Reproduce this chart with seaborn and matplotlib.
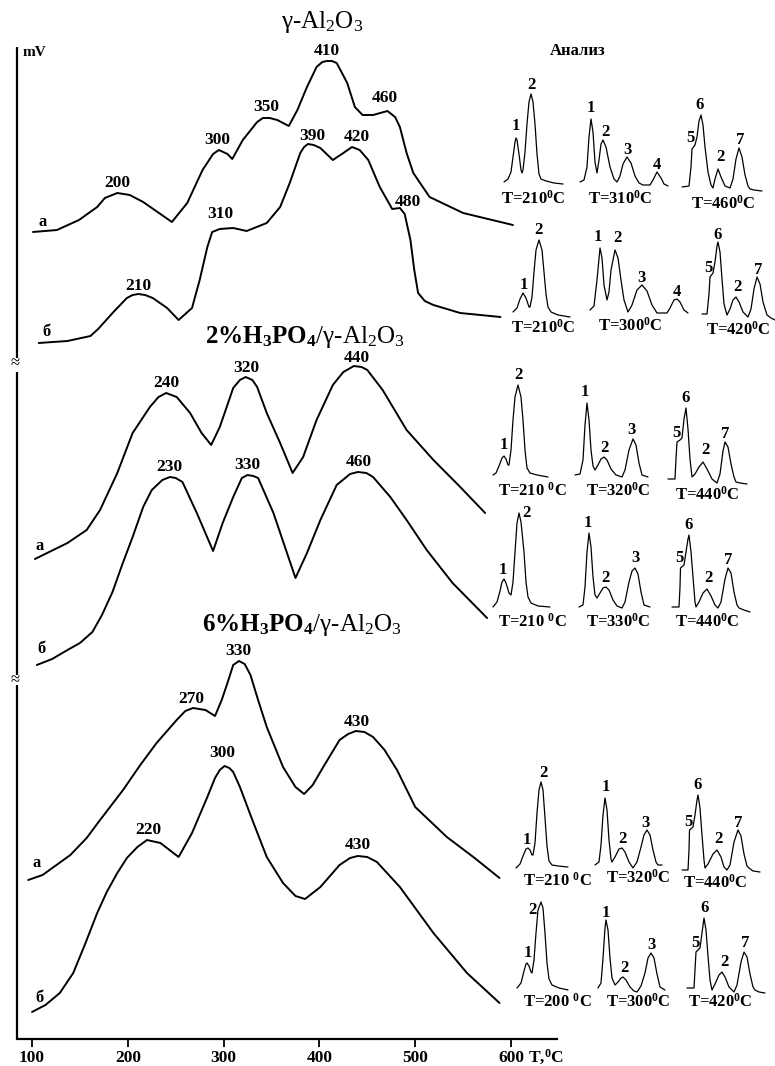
import matplotlib as mpl
mpl.use("Agg")
import matplotlib.pyplot as plt
import seaborn as sns

W, H = 775, 1066

# ---------------- TPD curves: temperature (C) vs signal (mV, shifted) ----------------
gam_a_T = [101, 126, 149, 168, 176, 189, 202, 216, 246, 262, 278, 289, 295, 304, 309, 320, 335, 341, 348, 356,
           368, 377, 387, 397, 403, 408, 413, 418, 423, 429, 437, 445, 456, 471, 479, 484, 491, 498, 515, 550, 602]
gam_a_mV = [807, 809, 819, 832, 841, 846, 844, 837, 817, 836, 869, 885, 889, 885, 880, 899, 917, 921, 921, 919,
            913, 929, 952, 972, 977, 978, 978, 976, 967, 956, 932, 924, 924, 928, 922, 912, 886, 866, 842, 826, 814]

gam_b_T = [107, 137, 161, 169, 185, 199, 205, 211, 218, 226, 241, 253, 267, 275, 283, 288, 296, 310, 324, 345,
           359, 369, 380, 384, 388, 394, 401, 414, 425, 434, 442, 451, 463, 476, 484, 489, 495, 499, 503, 510,
           519, 547, 589]
gam_b_mV = [696, 698, 703, 710, 727, 741, 744, 745, 744, 741, 731, 719, 731, 759, 792, 807, 810, 811, 808, 816,
            832, 856, 886, 892, 895, 894, 891, 879, 886, 892, 889, 879, 852, 830, 831, 825, 799, 769, 746, 738,
            734, 726, 722]

p2_a_T = [103, 137, 157, 171, 189, 205, 223, 232, 240, 251, 265, 277, 287, 296, 310, 317, 323, 330, 335, 345,
          359, 372, 383, 397, 414, 425, 436, 444, 450, 466, 491, 519, 547, 573]
p2_a_mV = [480, 496, 509, 529, 566, 606, 632, 642, 646, 642, 626, 606, 594, 612, 651, 659, 662, 659, 652, 626,
           596, 566, 582, 619, 654, 667, 673, 672, 669, 649, 609, 579, 552, 526]

p2_b_T = [105, 121, 137, 150, 163, 173, 184, 194, 205, 216, 225, 236, 244, 250, 257, 272, 289, 299, 310, 319,
          325, 331, 336, 352, 375, 387, 401, 418, 432, 440, 449, 456, 474, 491, 512, 539, 575]
p2_b_mV = [374, 380, 389, 396, 407, 424, 447, 474, 502, 532, 549, 559, 562, 561, 557, 526, 488, 516, 542, 561,
           564, 563, 561, 526, 461, 486, 519, 554, 565, 567, 566, 562, 542, 519, 489, 456, 421]

p6_a_T = [96, 111, 140, 157, 171, 195, 213, 230, 251, 260, 268, 281, 291, 298, 304, 310, 316, 322, 328, 336,
          345, 362, 375, 384, 393, 404, 421, 430, 438, 447, 456, 468, 481, 500, 533, 562, 588]
p6_a_mV = [159, 164, 184, 201, 219, 249, 274, 296, 319, 328, 331, 329, 323, 339, 356, 374, 378, 375, 364, 339,
           312, 272, 252, 245, 254, 272, 299, 305, 308, 307, 302, 289, 269, 232, 202, 181, 161]

p6_b_T = [100, 114, 129, 143, 155, 168, 178, 189, 199, 210, 220, 234, 253, 267, 275, 283, 291, 296, 301, 306,
          310, 317, 330, 345, 362, 375, 385, 401, 421, 432, 440, 450, 460, 484, 519, 554, 588]
p6_b_mV = [27, 34, 46, 66, 94, 126, 147, 166, 181, 192, 199, 196, 182, 206, 224, 242, 261, 269, 273, 271,
           267, 252, 219, 182, 156, 143, 140, 152, 174, 181, 183, 182, 177, 152, 106, 66, 36]

# peak labels (text, T, mV)
gam_a_peaks = [("200", 189, 856), ("300", 293, 899), ("350", 344, 932), ("410", 408, 988), ("460", 468, 941)]
gam_b_peaks = [("210", 211, 753), ("310", 297, 825), ("390", 393, 903), ("420", 439, 902), ("480", 492, 837)]
p2_a_peaks = [("240", 240, 656), ("320", 324, 671), ("440", 439, 681)]
p2_b_peaks = [("230", 243, 572), ("330", 325, 574), ("460", 441, 577)]
p6_a_peaks = [("270", 266, 340), ("330", 315, 388), ("430", 439, 317)]
p6_b_peaks = [("220", 221, 209), ("300", 299, 286), ("430", 440, 194)]

curve_names = [("а", 111, 817), ("б", 115, 707), ("а", 108, 493),
               ("б", 110, 390), ("а", 105, 176), ("б", 108, 41)]

x_ticks = [100, 200, 300, 400, 500, 600]

# ---------------- chromatograms (retention, signal) ----------------
c1_210 = [(0, 0), (4, 3), (7, 10), (9, 25), (11, 40), (12, 44), (13, 42), (15, 28), (17, 12), (18, 9),
          (19, 12), (21, 30), (23, 58), (25, 80), (27, 88), (29, 80), (31, 58), (33, 28), (35, 8), (37, 3),
          (42, 1), (50, -1), (59, -2)]
c1_310 = [(0, 0), (4, 2), (7, 15), (9, 45), (11, 63), (13, 50), (15, 20), (17, 9), (19, 22), (21, 38),
          (23, 42), (26, 35), (30, 15), (34, 3), (37, 0), (40, 6), (43, 18), (47, 25), (51, 19), (55, 6),
          (59, -1), (63, -3), (70, -3), (73, 2), (77, 10), (81, 4), (84, -2), (88, -4)]
c1_460 = [(0, 0), (7, 1), (9, 20), (10, 38), (13, 42), (15, 50), (17, 66), (19, 72), (21, 62), (23, 40),
          (26, 15), (29, 2), (31, -1), (33, 8), (36, 18), (39, 10), (43, 1), (48, -1), (51, 8), (54, 28),
          (57, 39), (60, 30), (63, 12), (66, 1), (68, -2), (72, -3), (80, -4)]
c2_210 = [(0, 0), (4, 4), (7, 13), (10, 19), (13, 14), (16, 5), (17, 5), (19, 15), (21, 40), (23, 62),
          (26, 72), (29, 62), (31, 40), (33, 18), (35, 5), (38, 0), (45, -3), (57, -5)]
c2_300 = [(0, 0), (4, 4), (7, 30), (10, 62), (12, 52), (14, 25), (17, 10), (19, 18), (21, 40), (25, 60),
          (28, 52), (31, 30), (34, 10), (38, -2), (42, 5), (47, 20), (52, 25), (57, 19), (62, 5), (67, -3),
          (77, -3), (80, 2), (84, 10), (87, 11), (90, 8), (94, 0), (98, -3)]
c2_420 = [(0, 0), (5, 0), (7, 20), (8, 37), (11, 41), (13, 52), (15, 68), (16, 72), (18, 62), (20, 35),
          (22, 10), (25, -1), (28, 5), (31, 14), (34, 17), (37, 12), (41, 2), (46, -3), (49, 5), (52, 25),
          (55, 37), (58, 30), (61, 12), (65, -1), (69, -4), (73, -6)]
c3_210 = [(0, 0), (3, 2), (6, 9), (9, 17), (11, 19), (13, 16), (15, 10), (16, 10), (18, 25), (20, 55),
          (22, 78), (25, 90), (28, 78), (30, 55), (32, 25), (34, 7), (37, 2), (44, 0), (55, -2)]
c3_320 = [(0, 0), (5, 1), (8, 15), (10, 50), (12, 72), (14, 55), (16, 25), (18, 9), (20, 5), (23, 10),
          (26, 16), (29, 18), (32, 15), (36, 6), (41, 0), (47, -2), (50, 5), (54, 25), (58, 36), (61, 30),
          (64, 12), (67, 0), (73, -2)]
c3_440 = [(0, 0), (7, 0), (8, 20), (9, 37), (12, 39), (14, 41), (16, 60), (18, 71), (20, 50), (22, 20),
          (24, 2), (27, 5), (31, 12), (35, 17), (39, 10), (44, 0), (49, -4), (52, 5), (55, 28), (57, 37),
          (60, 32), (63, 15), (66, 2), (68, -3), (72, -4), (79, -5)]
c4_210 = [(0, 0), (4, 5), (7, 16), (9, 25), (11, 28), (13, 24), (16, 14), (18, 12), (20, 25), (22, 55),
          (24, 84), (26, 94), (28, 85), (31, 55), (33, 25), (35, 10), (38, 4), (45, 1), (57, 0)]
c4_330 = [(0, 0), (4, 2), (6, 20), (8, 55), (10, 74), (12, 60), (14, 30), (16, 12), (18, 9), (21, 14),
          (24, 19), (27, 20), (30, 17), (34, 7), (38, 1), (43, -1), (46, 5), (50, 25), (53, 36), (56, 39),
          (59, 33), (62, 15), (65, 2), (71, 0)]
c4_440 = [(0, 0), (7, 0), (8, 20), (8.5, 39), (12, 42), (14, 55), (16, 68), (17, 72), (19, 55), (21, 30),
          (23, 5), (24, 0), (27, 5), (31, 14), (35, 18), (39, 11), (43, 2), (46, -1), (49, 5), (53, 28),
          (56, 39), (59, 34), (62, 15), (65, 2), (67, -1), (72, -3), (78, -5)]
c5_210 = [(0, 0), (4, 4), (7, 12), (10, 19), (12, 20), (14, 18), (16, 13), (17, 13), (19, 25), (21, 55),
          (23, 78), (25, 86), (27, 78), (29, 50), (31, 22), (33, 7), (36, 3), (42, 2), (52, 1)]
c5_320 = [(0, 0), (4, 3), (6, 20), (8, 50), (10, 67), (12, 55), (14, 25), (16, 6), (17, 3), (20, 8),
          (24, 16), (27, 17), (30, 13), (34, 3), (38, -3), (42, 3), (46, 18), (49, 30), (52, 35), (55, 30),
          (58, 15), (61, 3), (63, 0), (67, 0)]
c5_440 = [(0, 0), (6, 0), (7, 20), (7.5, 40), (11, 43), (13, 55), (15, 70), (16, 75), (18, 62), (20, 35),
          (22, 10), (23, 2), (26, 6), (31, 16), (35, 20), (39, 13), (42, 3), (45, 0), (48, 5), (52, 28),
          (56, 40), (59, 34), (62, 16), (65, 4), (67, 2), (71, -1), (78, -2)]
c6_200 = [(0, 0), (4, 5), (7, 17), (9, 24), (10, 25), (12, 22), (14, 16), (15, 15), (17, 28), (19, 55),
          (21, 78), (24, 86), (26, 80), (28, 55), (30, 25), (32, 9), (35, 3), (42, 0), (51, -2)]
c6_300 = [(0, 0), (3, 5), (5, 30), (7, 60), (8, 68), (10, 58), (12, 30), (14, 10), (17, 3), (20, 6),
          (23, 10), (25, 11), (28, 8), (32, 1), (36, -3), (39, -4), (43, 2), (47, 15), (50, 30), (53, 35),
          (56, 30), (59, 14), (62, 1), (67, -2)]
c6_420 = [(0, 0), (7, 0), (8, 18), (9, 36), (13, 40), (15, 55), (17, 70), (19, 58), (21, 32), (23, 8),
          (25, -2), (28, 4), (32, 13), (35, 16), (38, 11), (42, 1), (47, -4), (50, 3), (54, 26), (57, 36),
          (60, 31), (63, 14), (66, 1), (68, -2), (72, -4), (78, -5)]

# chromatogram peak numbers (label, retention, signal)
k1_210 = [("1", 12, 56), ("2", 27, 97)]
k1_310 = [("1", 11, 74), ("2", 25, 50), ("3", 47, 32), ("4", 77, 17)]
k1_460 = [("5", 8, 49), ("6", 18, 82), ("2", 38, 30), ("7", 58, 47)]
k2_210 = [("1", 11, 27), ("2", 25, 82)]
k2_300 = [("1", 8, 73), ("2", 27, 72), ("3", 52, 32), ("4", 87, 18)]
k2_420 = [("5", 6, 46), ("6", 16, 79), ("2", 35, 27), ("7", 56, 44)]
k3_210 = [("1", 11, 30), ("2", 25, 100)]
k3_320 = [("1", 10, 83), ("2", 29, 27), ("3", 57, 45)]
k3_440 = [("5", 8, 46), ("6", 18, 81), ("2", 37, 29), ("7", 57, 45)]
k4_210 = [("1", 10, 37), ("2", 33, 94)]
k4_330 = [("1", 9, 84), ("2", 26, 29), ("3", 56, 49)]
k4_440 = [("5", 7, 49), ("6", 17, 82), ("2", 36, 29), ("7", 56, 47)]
k5_210 = [("1", 11, 28), ("2", 27, 95)]
k5_320 = [("1", 11, 78), ("2", 27, 26), ("3", 51, 42)]
k5_440 = [("5", 6, 48), ("6", 16, 85), ("2", 36, 31), ("7", 56, 47)]
k6_200 = [("1", 11, 35), ("2", 15, 78)]
k6_300 = [("1", 8, 75), ("2", 26, 20), ("3", 54, 43)]
k6_420 = [("5", 8, 45), ("6", 18, 80), ("2", 37, 26), ("7", 58, 45)]

chrom_temps = ["T=210$^\\mathbf{0}$C", "T=310$^\\mathbf{0}$C", "T=460$^\\mathbf{0}$C",
               "T=210$^\\mathbf{0}$C", "T=300$^\\mathbf{0}$C", "T=420$^\\mathbf{0}$C",
               "T=210 $^\\mathbf{0}$C", "T=320$^\\mathbf{0}$C", "T=440$^\\mathbf{0}$C",
               "T=210 $^\\mathbf{0}$C", "T=330$^\\mathbf{0}$C", "T=440$^\\mathbf{0}$C",
               "T=210 $^\\mathbf{0}$C", "T=320$^\\mathbf{0}$C", "T=440$^\\mathbf{0}$C",
               "T=200 $^\\mathbf{0}$C", "T=300$^\\mathbf{0}$C", "T=420$^\\mathbf{0}$C"]

# ---------------- style ----------------
sns.set_theme(style="white")
plt.rcParams["font.family"] = ["Liberation Serif", "DejaVu Serif"]
plt.rcParams.update({
    "mathtext.fontset": "custom",
    "mathtext.rm": "Liberation Serif",
    "mathtext.bf": "Liberation Serif:bold",
    "mathtext.it": "Liberation Serif:italic",
    "lines.solid_joinstyle": "round",
    "lines.solid_capstyle": "round",
    "text.color": "black",
    "axes.labelcolor": "black",
    "xtick.color": "black",
    "ytick.color": "black",
})


def fx(px):
    return px / W


def fy(py):
    return 1 - py / H


fig = plt.figure(figsize=(W / 100, H / 100), dpi=100)
fig.patch.set_facecolor("white")

x_lo, x_hi = 84.3, 648.0
ax = fig.add_axes([fx(17), fy(1039), fx(557) - fx(17), fy(47) - fy(1039)])
ax.set_xlim(x_lo, x_hi)
ax.set_ylim(0, 992)
ax.patch.set_alpha(0)

curves = [(gam_a_T, gam_a_mV), (gam_b_T, gam_b_mV), (p2_a_T, p2_a_mV),
          (p2_b_T, p2_b_mV), (p6_a_T, p6_a_mV), (p6_b_T, p6_b_mV)]
for T, mv in curves:
    sns.lineplot(x=T, y=mv, ax=ax, color="black", linewidth=1.4, estimator=None, sort=False)

for peaks in [gam_a_peaks, gam_b_peaks, p2_a_peaks, p2_b_peaks, p6_a_peaks, p6_b_peaks]:
    for lab, t, mv in peaks:
        ax.text(t, mv, lab, ha="center", va="center", fontsize=12.5, fontweight="bold")

for lab, t, mv in curve_names:
    ax.text(t, mv, lab, ha="center", va="center", fontsize=12, fontweight="bold")

# axes
for side in ["top", "right", "left"]:
    ax.spines[side].set_visible(False)
ax.spines["bottom"].set_color("black")
ax.spines["bottom"].set_linewidth(1.6)
ax.set_xticks(x_ticks)
ax.set_xticklabels([str(v) for v in x_ticks], fontsize=12.5, fontweight="bold")
ax.set_yticks([])
ax.tick_params(axis="x", direction="out", length=6, width=1.3, pad=2, colors="black", bottom=True)
ax.set_xlabel("")
ax.set_ylabel("")
# broken vertical axis
seg_lo = [0, 364, 681]
seg_hi = [354, 667, 992]
ax.vlines([x_lo] * len(seg_lo), seg_lo, seg_hi, color="black", linewidth=1.6, clip_on=False)
for py in [363, 680]:
    fig.text(fx(15), fy(py), "≈", ha="center", va="center", fontsize=12)

fig.text(fx(528), fy(1057), "T,$^\\mathbf{0}$C", ha="left", va="center", fontsize=12.5, fontweight="bold")
fig.text(fx(23), fy(53), "mV", ha="left", va="center", fontsize=11, fontweight="bold")
fig.text(fx(578), fy(51), "Анализ", ha="center", va="center", fontsize=12, fontweight="bold")

# panel titles
fig.text(fx(322), fy(22), "γ-Al$_2$O$_3$", ha="center", va="center", fontsize=18)
fig.text(fx(305), fy(337), "$\\mathbf{2\\%H_3PO_4}$/γ-Al$_2$O$_3$", ha="center", va="center", fontsize=18)
fig.text(fx(302), fy(625), "$\\mathbf{6\\%H_3PO_4}$/γ-Al$_2$O$_3$", ha="center", va="center", fontsize=18)

# chromatogram insets
chroms = [c1_210, c1_310, c1_460, c2_210, c2_300, c2_420, c3_210, c3_320, c3_440,
          c4_210, c4_330, c4_440, c5_210, c5_320, c5_440, c6_200, c6_300, c6_420]
chrom_peaks = [k1_210, k1_310, k1_460, k2_210, k2_300, k2_420, k3_210, k3_320, k3_440,
               k4_210, k4_330, k4_440, k5_210, k5_320, k5_440, k6_200, k6_300, k6_420]
inset_origin = [(504, 182), (580, 182), (682, 187), (513, 312), (590, 310), (702, 314),
                (493, 475), (575, 475), (668, 479), (493, 607), (579, 607), (672, 607),
                (516, 868), (595, 865), (682, 870), (517, 988), (598, 988), (687, 988)]
label_dx = [29, 40, 41, 30, 40, 36, 39, 43, 39, 39, 39, 35, 41, 43, 33, 40, 40, 33]
label_dy = [-17, -16, -16, -15, -13, -14]

for i, (pts, pk, (x0, yb)) in enumerate(zip(chroms, chrom_peaks, inset_origin)):
    t = [p[0] for p in pts]
    s = [p[1] for p in pts]
    span = max(t)
    iax = fig.add_axes([fx(x0 - 5), fy(yb + 40), (span + 10) / W, 160 / H])
    iax.set_xlim(-5, span + 5)
    iax.set_ylim(-40, 120)
    iax.axis("off")
    sns.lineplot(x=t, y=s, ax=iax, color="black", linewidth=0.9, estimator=None, sort=False)
    for lab, pt, ps in pk:
        iax.text(pt, ps, lab, ha="center", va="center", fontsize=12, fontweight="bold", clip_on=False)
    iax.text(label_dx[i], label_dy[i // 3], chrom_temps[i], ha="center", va="center",
             fontsize=12, fontweight="bold", clip_on=False)

fig.savefig("out.png", dpi=100)
